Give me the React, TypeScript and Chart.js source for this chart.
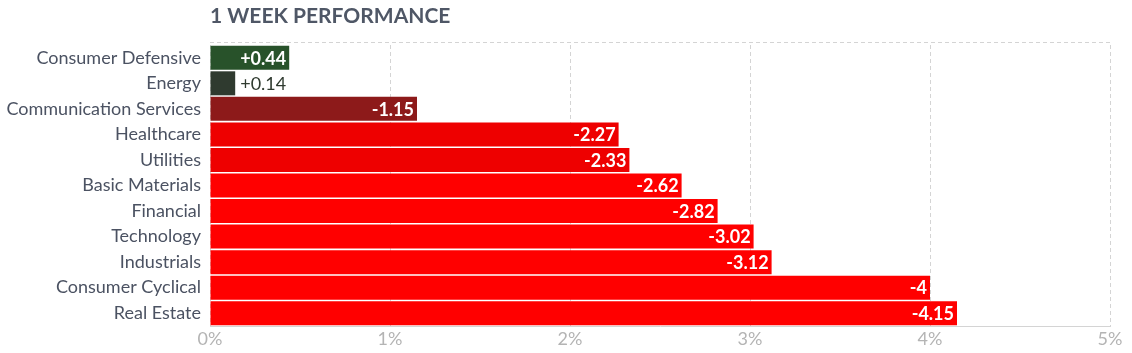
import React, { useEffect, useRef } from "react";
import { Chart, registerables } from "chart.js";

Chart.register(...registerables);

const categories = [
  "Consumer Defensive",
  "Energy",
  "Communication Services",
  "Healthcare",
  "Utilities",
  "Basic Materials",
  "Financial",
  "Technology",
  "Industrials",
  "Consumer Cyclical",
  "Real Estate",
];
const changes = [0.44, 0.14, -1.15, -2.27, -2.33, -2.62, -2.82, -3.02, -3.12, -4, -4.15];
const barColors = [
  "#28522a",
  "#2f3a2f",
  "#8d1a1a",
  "#ee0000",
  "#ee0000",
  "#ff0000",
  "#ff0000",
  "#ff0000",
  "#ff0000",
  "#ff0000",
  "#ff0000",
];
const xTicks = [0, 1, 2, 3, 4, 5];
const title = "1 WEEK PERFORMANCE";

const FONT = "Lato, 'Open Sans', sans-serif";

export default function App() {
  const ref = useRef<HTMLCanvasElement | null>(null);
  useEffect(() => {
    document.body.style.margin = "0";
    const canvas = ref.current!;
    const labelPlugin = {
      id: "labels",
      afterDatasetsDraw(chart: any) {
        const ctx = chart.ctx;
        const meta = chart.getDatasetMeta(0);
        ctx.save();
        ctx.textBaseline = "middle";
        meta.data.forEach((bar: any, i: number) => {
          const v = changes[i];
          const txt = (v >= 0 ? "+" : "-") + String(Math.abs(v));
          const width = bar.x - bar.base;
          ctx.font = `bold 18px ${FONT}`;
          const tw = ctx.measureText(txt).width;
          if (tw + 8 < width) {
            ctx.fillStyle = "#ffffff";
            ctx.textAlign = "right";
            ctx.fillText(txt, bar.x - 3, bar.y + 1);
          } else {
            ctx.font = `18px ${FONT}`;
            ctx.fillStyle = "#2f3a2f";
            ctx.textAlign = "left";
            ctx.fillText(txt, bar.x + 5, bar.y + 1);
          }
        });
        ctx.restore();
      },
      afterDraw(chart: any) {
        const ctx = chart.ctx;
        const a = chart.chartArea;
        ctx.save();
        ctx.strokeStyle = "#d4d4d4";
        ctx.lineWidth = 1;
        ctx.setLineDash([4, 3]);
        ctx.beginPath();
        ctx.moveTo(a.left, 42.5);
        ctx.lineTo(a.right, 42.5);
        ctx.stroke();
        ctx.setLineDash([]);
        ctx.fillStyle = "#4f5766";
        ctx.font = `bold 21px ${FONT}`;
        ctx.textAlign = "left";
        ctx.textBaseline = "middle";
        ctx.fillText(title, a.left, 16);
        ctx.restore();
      },
    };
    const chart = new Chart(canvas, {
      type: "bar",
      data: {
        labels: categories,
        datasets: [
          {
            data: changes.map((v) => Math.abs(v)),
            backgroundColor: barColors,
            barPercentage: 0.94,
            categoryPercentage: 1,
          },
        ],
      },
      options: {
        indexAxis: "y",
        animation: false,
        responsive: false,
        maintainAspectRatio: false,
        layout: { padding: { top: 45, right: 22, left: 0, bottom: 0 } },
        plugins: { legend: { display: false }, tooltip: { enabled: false } },
        scales: {
          x: {
            min: 0,
            max: 5,
            afterBuildTicks(scale: any) {
              scale.ticks = xTicks.map((v) => ({ value: v }));
            },
            afterFit(scale: any) {
              scale.height = 27;
            },
            ticks: {
              callback: (v: any) => v + "%",
              color: "#b4b4b4",
              font: { family: FONT, size: 18 },
              padding: 2,
              maxRotation: 0,
            },
            grid: { color: "#d4d4d4", drawTicks: false },
            border: { display: true, color: "#d4d4d4", dash: [4, 3] },
          },
          y: {
            afterFit(scale: any) {
              scale.width = 210;
            },
            ticks: {
              color: "#4b5262",
              font: { family: FONT, size: 18 },
              padding: 9,
            },
            grid: { display: false, drawTicks: false },
            border: { display: false },
          },
        },
      },
      plugins: [labelPlugin],
    } as any);
    return () => chart.destroy();
  }, []);
  return (
    <div style={{ width: 1132, height: 353 }}>
      <canvas ref={ref} width={1132} height={353} style={{ display: "block" }} />
    </div>
  );
}
